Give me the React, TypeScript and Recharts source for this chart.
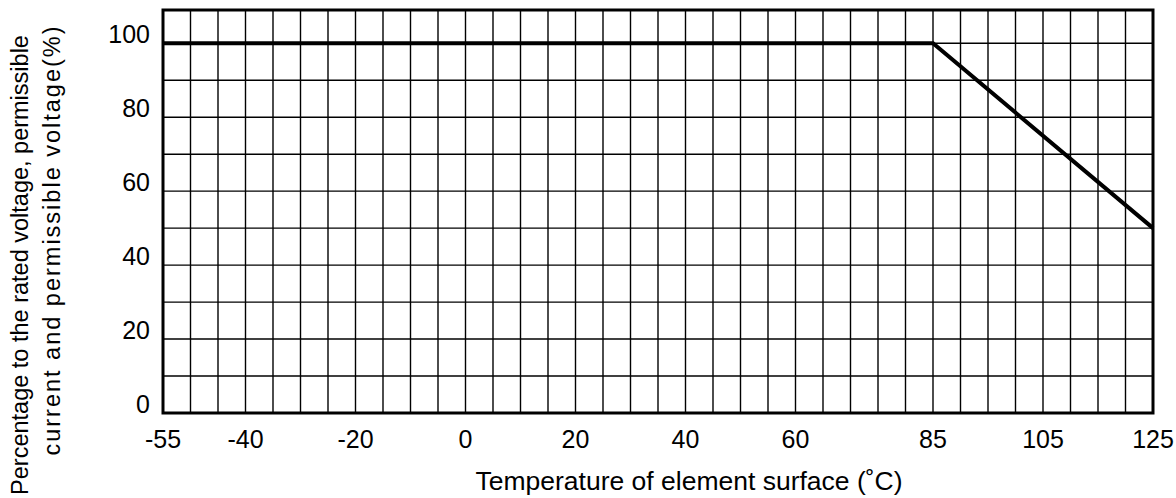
import React from "react";
import { LineChart, Line, XAxis, YAxis, ReferenceLine, ReferenceArea } from "recharts";

// derating curve: temperature (°C) vs allowed percentage
const temps = [-55, 85, 125];
const ratings = [100, 100, 50];

const xTicks = [-55, -40, -20, 0, 20, 40, 60, 85, 105, 125];
const yTicks = [0, 20, 40, 60, 80, 100];

// grid lines every 5°C and every 10%
const xGrid = [
  -50, -45, -40, -35, -30, -25, -20, -15, -10, -5, 0, 5, 10, 15, 20, 25, 30, 35, 40, 45, 50, 55,
  60, 65, 70, 75, 80, 85, 90, 95, 100, 105, 110, 115, 120,
];
const yGrid = [10, 20, 30, 40, 50, 60, 70, 80, 90, 100];

const FONT = "Arial, 'Liberation Sans', sans-serif";

const data = temps.map((t, i) => ({ temp: t, rating: ratings[i] }));

const XTick = ({ x, y, payload }: any) => (
  <text x={x} y={y + 35} textAnchor="middle" fontSize={25} fill="#000" fontFamily={FONT}>
    {payload.value}
  </text>
);

const YTick = ({ x, y, payload }: any) => (
  <text x={x} y={y} textAnchor="end" fontSize={25} fill="#000" fontFamily={FONT}>
    {payload.value}
  </text>
);

const YTitle = () => (
  <g fontSize={23.5} fill="#000" fontFamily={FONT}>
    <text transform="translate(28,265) rotate(-90)" textAnchor="middle">
      Percentage to the rated voltage, permissible
    </text>
    <text transform="translate(60,240) rotate(-90)" textAnchor="middle" letterSpacing={2}>
      current and permissible voltage(%)
    </text>
  </g>
);

const XTitle = () => (
  <text x={689} y={490} textAnchor="middle" fontSize={26.5} fill="#000" fontFamily={FONT}>
    Temperature of element surface (˚C)
  </text>
);

const App: React.FC = () => {
  return (
    <div style={{ position: "absolute", left: 0, top: 0, background: "#fff" }}>
      <LineChart width={1176} height={498} data={data} margin={{ top: 10, right: 23, bottom: 0, left: 0 }}>
        <XAxis
          dataKey="temp"
          type="number"
          domain={[-55, 125]}
          ticks={xTicks}
          axisLine={false}
          tickLine={false}
          tickSize={0}
          tickMargin={0}
          tick={<XTick />}
          height={85}
          label={{ content: () => <XTitle /> }}
        />
        <YAxis
          type="number"
          domain={[0, 109]}
          ticks={yTicks}
          axisLine={false}
          tickLine={false}
          tickSize={0}
          tickMargin={13}
          tick={<YTick />}
          width={163}
          label={{ content: () => <YTitle /> }}
        />
        {xGrid.map((v) => (
          <ReferenceLine key={"x" + v} x={v} stroke="#000" strokeWidth={1.4} />
        ))}
        {yGrid.map((v) => (
          <ReferenceLine key={"y" + v} y={v} stroke="#000" strokeWidth={1.4} />
        ))}
        <ReferenceArea x1={-55} x2={125} y1={0} y2={109} fill="none" stroke="#000" strokeWidth={3} />
        <Line
          type="linear"
          dataKey="rating"
          stroke="#000"
          strokeWidth={4}
          dot={false}
          isAnimationActive={false}
        />
      </LineChart>
    </div>
  );
};

export default App;
